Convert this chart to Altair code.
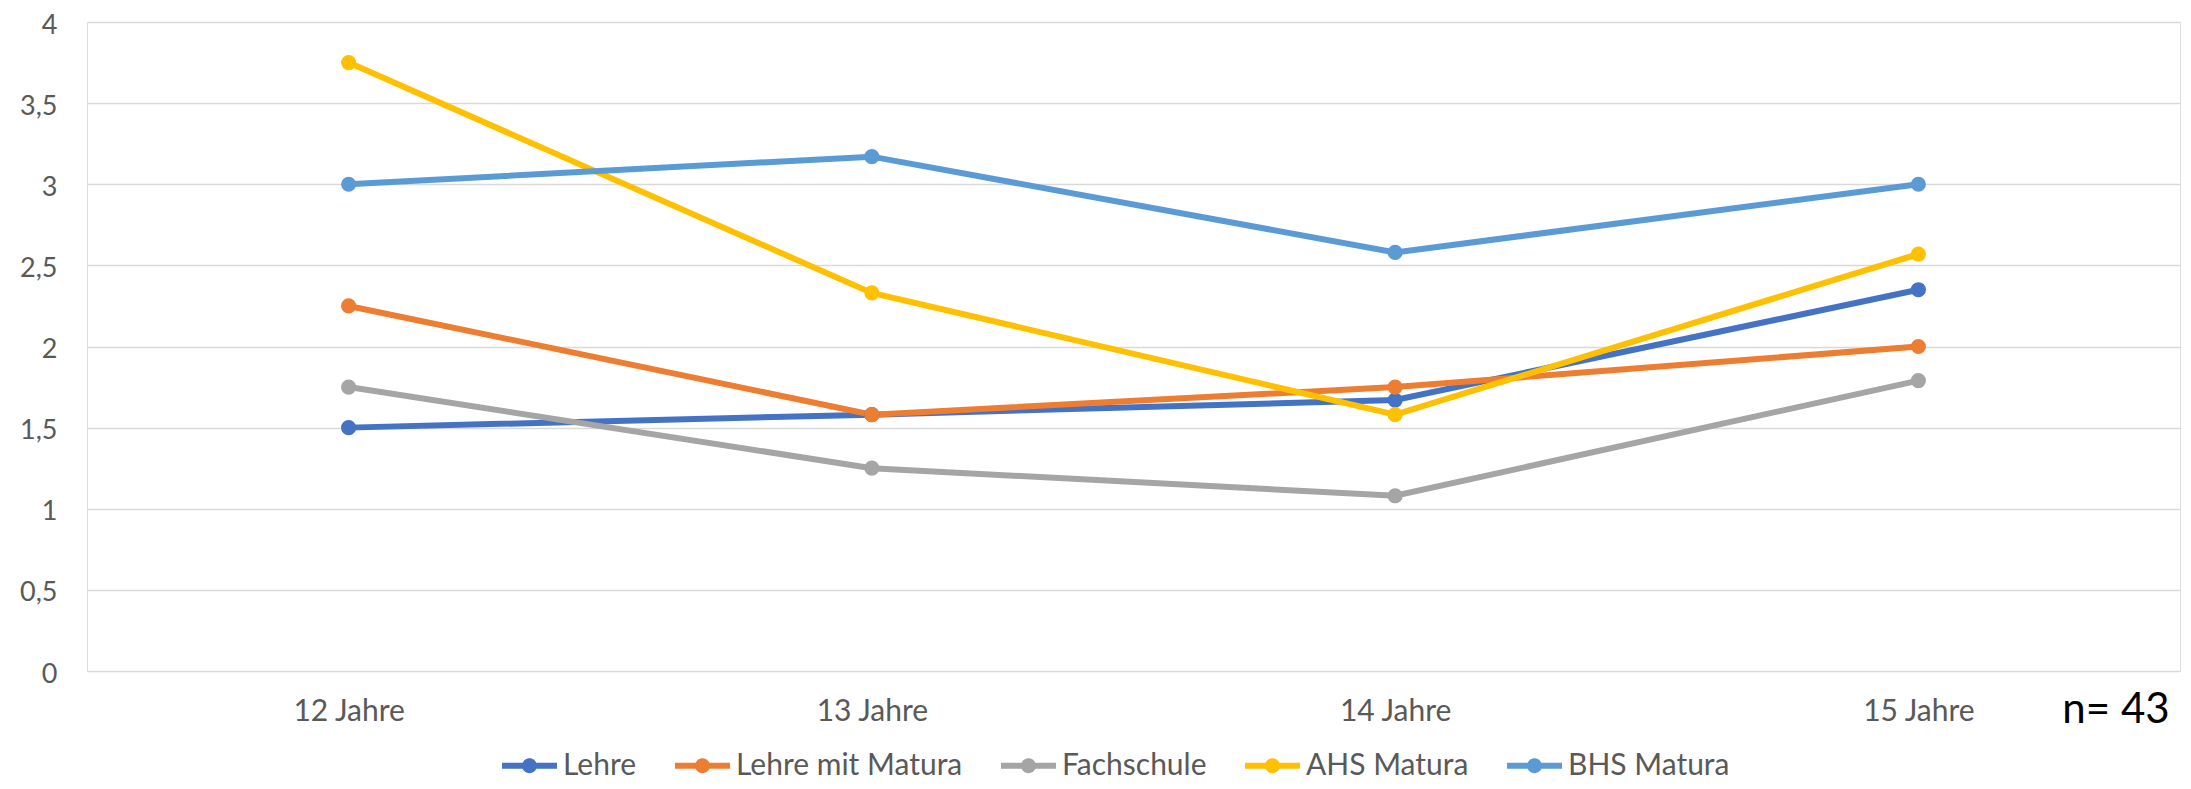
import altair as alt
import pandas as pd

categories = ["12 Jahre", "13 Jahre", "14 Jahre", "15 Jahre"]
series_names = ["Lehre", "Lehre mit Matura", "Fachschule", "AHS Matura", "BHS Matura"]
lehre = [1.5, 1.58, 1.67, 2.35]
lehre_mit_matura = [2.25, 1.58, 1.75, 2.0]
fachschule = [1.75, 1.25, 1.08, 1.79]
ahs_matura = [3.75, 2.33, 1.58, 2.57]
bhs_matura = [3.0, 3.17, 2.58, 3.0]
y_ticks = [0, 0.5, 1, 1.5, 2, 2.5, 3, 3.5, 4]
note_text = ["n= 43"]
colors = ["#4472C4", "#ED7D31", "#A5A5A5", "#FFC000", "#5B9BD5"]

all_values = [lehre, lehre_mit_matura, fachschule, ahs_matura, bhs_matura]
rows = []
for name, vals in zip(series_names, all_values):
    for cat, v in zip(categories, vals):
        rows.append({"Jahr": cat, "Serie": name, "Wert": v})
df = pd.DataFrame(rows)
note_df = pd.DataFrame({"label": note_text})

FONT = "Lato"
LABEL_COLOR = "#595959"

x_enc = alt.X(
    "Jahr:N",
    sort=categories,
    scale=alt.Scale(domain=categories, padding=0.5),
    axis=alt.Axis(
        title=None, labelAngle=0, grid=False, domain=False, ticks=False,
        tickSize=0, labelPadding=25, labelFont=FONT, labelFontSize=30,
        labelColor=LABEL_COLOR,
    ),
)
y_enc = alt.Y(
    "Wert:Q",
    scale=alt.Scale(domain=[0, 4], nice=False, zero=True),
    axis=alt.Axis(
        title=None, values=y_ticks, grid=True, gridColor="#D9D9D9",
        gridWidth=1.5, domain=False, ticks=False, tickSize=0, labelPadding=30,
        labelOffset=3,
        labelFont=FONT, labelFontSize=27, labelColor=LABEL_COLOR,
        labelExpr="replace(toString(datum.value), '.', ',')",
    ),
)

legend_symbol = (
    "M-1,-0.105H1V0.105H-1Z "
    "M0.27,0A0.27,0.27,0,1,1,-0.27,0A0.27,0.27,0,1,1,0.27,0Z"
)

color_scale = alt.Scale(domain=series_names, range=colors)

legend_def = alt.Legend(
    title=None,
    orient="none",
    direction="horizontal",
    legendX=415,
    legendY=716,
    symbolType=legend_symbol,
    symbolSize=3025,
    symbolStrokeWidth=0,
    symbolOpacity=1,
    labelFont=FONT,
    labelFontSize=30,
    labelColor=LABEL_COLOR,
    labelOffset=6,
    labelLimit=0,
    columnPadding=38,
)

lines = alt.Chart(df).mark_line(strokeWidth=6).encode(
    x=x_enc,
    y=y_enc,
    color=alt.Color("Serie:N", scale=color_scale, legend=legend_def),
    order=alt.Order("Jahr:N"),
)

points = alt.Chart(df).mark_point(filled=True, size=230, opacity=1).encode(
    x=x_enc,
    y=y_enc,
    color=alt.Color("Serie:N", scale=color_scale, legend=legend_def),
)

note = alt.Chart(note_df).mark_text(
    font=FONT, fontSize=42, color="#000000", align="center", baseline="middle"
).encode(
    text="label:N",
    x=alt.value(2029),
    y=alt.value(688),
)

chart = alt.layer(lines, points, note).properties(
    width=2093,
    height=649,
    autosize=alt.AutoSizeParams(type="none"),
    padding={"left": 79, "top": 14, "right": 3, "bottom": 110},
).configure_view(stroke=None).configure(background="#FFFFFF")

chart.save("out.html", embed_options={"renderer": "svg", "actions": False})
